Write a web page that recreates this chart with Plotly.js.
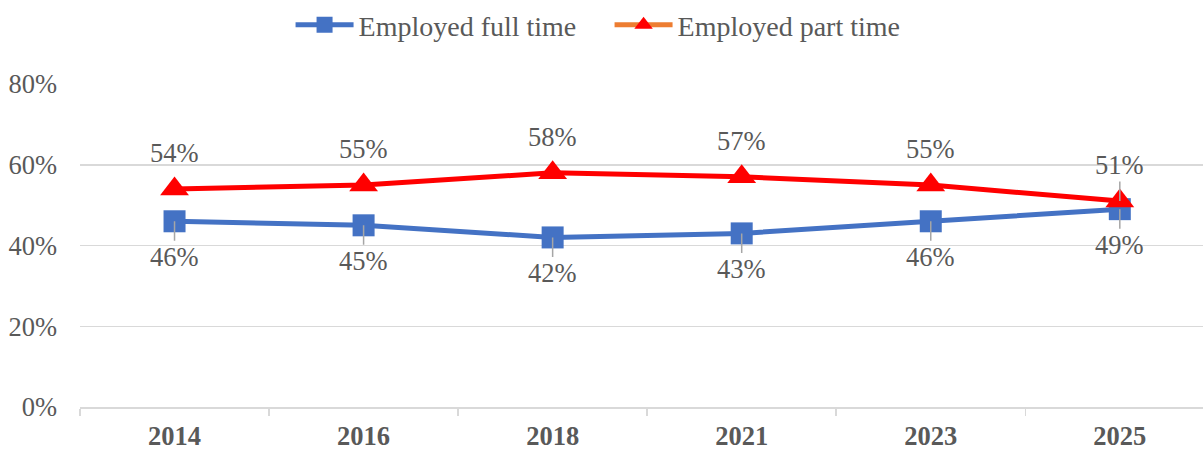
<!DOCTYPE html>
<html>
<head>
<meta charset="utf-8">
<script src="https://cdn.plot.ly/plotly-3.0.1.min.js"></script>
<style>html,body{margin:0;padding:0;background:#fff;}#chart{width:1203px;height:451px;}</style>
</head>
<body>
<div id="chart"></div>
<script>
const years = ['2014', '2016', '2018', '2021', '2023', '2025'];
const fullTime = [46, 45, 42, 43, 46, 49];
const partTime = [54, 55, 58, 57, 55, 51];
const yTicks = [0, 20, 40, 60, 80];
const yTickLabels = ['0%', '20%', '40%', '60%', '80%'];

const FONT = '"Liberation Serif", "Times New Roman", serif';
const TXT = '#595959';
const BLUE = '#4472C4';
const RED = '#FF0000';
const ORANGE = '#ED7D31';
const LEADER = '#A6A6A6';
const FS = 26.5;

const traces = [
  {
    x: years, y: fullTime, name: 'Employed full time', type: 'scatter', mode: 'lines+markers',
    line: {color: BLUE, width: 5}, marker: {symbol: 'square', size: 22, color: BLUE},
    hoverinfo: 'skip'
  },
  {
    x: [null], y: [null], name: 'Employed part time', type: 'scatter', mode: 'lines+markers',
    line: {color: ORANGE, width: 5}, marker: {symbol: 'triangle-up', size: 25, color: RED},
    hoverinfo: 'skip'
  },
  {
    x: years, y: partTime, name: 'Employed part time', type: 'scatter', mode: 'lines+markers',
    showlegend: false,
    line: {color: RED, width: 5}, marker: {symbol: 'triangle-up', size: 25, color: RED},
    hoverinfo: 'skip'
  }
];

const labelFont = {family: FONT, size: FS, color: TXT};
const annotations = [];
years.forEach((yr, i) => {
  const close = (partTime[i] - fullTime[i]) < 5;
  if (close) {
    annotations.push({x: i, y: partTime[i], text: partTime[i] + '%', showarrow: true,
      ax: 0, ay: -36, arrowhead: 0, arrowwidth: 1.5, arrowcolor: LEADER, standoff: 0,
      font: labelFont});
  } else {
    annotations.push({x: i, y: partTime[i], text: partTime[i] + '%', showarrow: false,
      yshift: 36, font: labelFont});
  }
  annotations.push({x: i, y: fullTime[i], text: fullTime[i] + '%', showarrow: true,
    ax: 0, ay: 36, arrowhead: 0, arrowwidth: 1.5, arrowcolor: LEADER, standoff: 0,
    font: labelFont});
});

const layout = {
  width: 1203, height: 451,
  margin: {l: 80, r: 0, t: 84, b: 44},
  paper_bgcolor: '#fff', plot_bgcolor: '#fff',
  font: {family: FONT, color: TXT, size: FS},
  showlegend: true,
  legend: {orientation: 'h', xref: 'container', yref: 'container', x: 0.5067, xanchor: 'center',
    y: 1, yanchor: 'top', font: {family: FONT, size: 28, color: TXT}, itemwidth: 58,
    entrywidth: 246, entrywidthmode: 'pixels'},
  xaxis: {type: 'category', range: [-0.5, 5.44], tickson: 'boundaries', ticks: 'outside',
    ticklen: 7, tickcolor: '#D9D9D9', tickwidth: 1.5, showgrid: false,
    showline: true, linecolor: '#D9D9D9', linewidth: 1.5, zeroline: false,
    ticklabelstandoff: 5,
    tickfont: {family: FONT, size: FS, color: TXT, weight: 'bold'}, fixedrange: true},
  yaxis: {range: [0, 80], tickvals: yTicks, ticktext: yTickLabels, showgrid: true,
    gridcolor: '#D9D9D9', gridwidth: 1.5, zeroline: false, showline: false, ticks: '',
    ticklabelstandoff: 22, tickfont: {family: FONT, size: FS, color: TXT}, fixedrange: true},
  annotations: annotations
};

Plotly.newPlot('chart', traces, layout, {displayModeBar: false, staticPlot: true});
</script>
</body>
</html>
